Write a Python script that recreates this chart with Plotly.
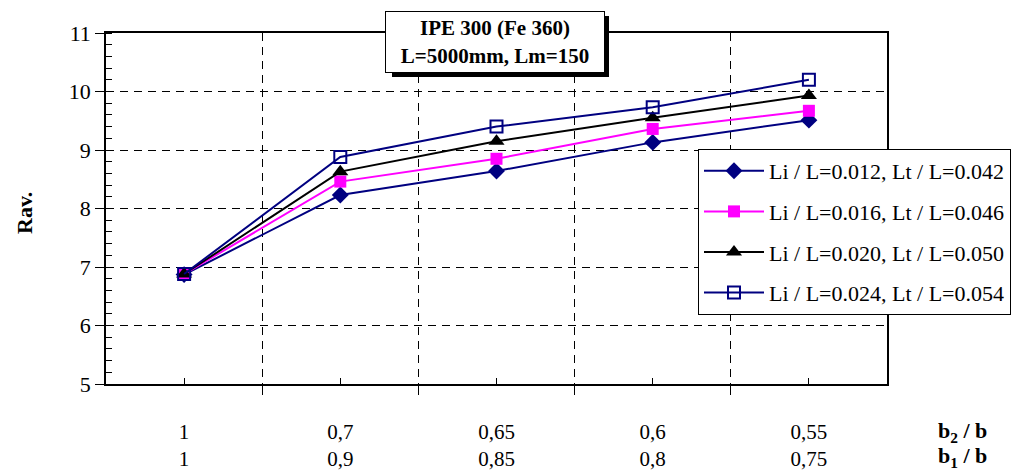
import plotly.graph_objects as go

# Data
b2_b = ["1", "0,7", "0,65", "0,6", "0,55"]
b1_b = ["1", "0,9", "0,85", "0,8", "0,75"]
series_names = [
    "Li / L=0.012, Lt / L=0.042",
    "Li / L=0.016, Lt / L=0.046",
    "Li / L=0.020, Lt / L=0.050",
    "Li / L=0.024, Lt / L=0.054",
]
s1 = [6.87, 8.23, 8.64, 9.13, 9.51]
s2 = [6.88, 8.46, 8.85, 9.36, 9.67]
s3 = [6.88, 8.63, 9.15, 9.55, 9.93]
s4 = [6.88, 8.88, 9.40, 9.73, 10.20]
y_ticks = [5, 6, 7, 8, 9, 10, 11]

FONT = "Times New Roman, Liberation Serif, DejaVu Serif, serif"
W, H = 1023, 470
L, R, T, B = 106, 887, 33, 384
PW, PH = R - L, B - T


def px_x(px):
    return (px - L) / PW


def px_y(py):
    return (B - py) / PH


xs = list(range(len(b2_b)))
ticktext = [f"{a}<br>{b}" for a, b in zip(b2_b, b1_b)]

styles = [
    dict(color="#000080", symbol="diamond", size=13, fill="#000080"),
    dict(color="#FF00FF", symbol="square", size=12, fill="#FF00FF"),
    dict(color="#000000", symbol="triangle-up", size=14, fill="#000000"),
    dict(color="#000080", symbol="square-open", size=12, fill="#000080"),
]

fig = go.Figure()
for i, (name, vals, st) in enumerate(zip(series_names, [s1, s2, s3, s4], styles)):
    fig.add_trace(go.Scatter(
        x=xs, y=vals, name=name, mode="lines+markers",
        legendgroup=f"g{i}",
        line=dict(color=st["color"], width=2),
        marker=dict(symbol=st["symbol"], size=st["size"], color=st["fill"],
                    line=dict(color=st["color"], width=2 if "open" in st["symbol"] else 0)),
    ))

fig.update_layout(
    width=W, height=H,
    margin=dict(l=L, r=W - R, t=T, b=H - B, pad=0, autoexpand=False),
    paper_bgcolor="white", plot_bgcolor="white",
    font=dict(family=FONT, size=22, color="black"),
    showlegend=True,
    legend=dict(
        x=px_x(698), y=px_y(149), xanchor="left", yanchor="top",
        bgcolor="white", bordercolor="black", borderwidth=1,
        font=dict(family=FONT, size=22, color="black"),
        tracegroupgap=9, itemwidth=60,
    ),
)

fig.update_xaxes(
    range=[-0.5, len(b2_b) - 0.5],
    tickmode="array", tickvals=xs, ticktext=ticktext,
    ticks="inside", ticklen=6, tickcolor="black", tickwidth=1,
    showgrid=False, zeroline=False,
    showline=True, linecolor="black", linewidth=1.5, mirror=True,
    ticklabelstandoff=28,
    tickfont=dict(family=FONT, size=21),
    minor=dict(tickmode="array", tickvals=[v - 0.5 for v in xs] + [len(xs) - 0.5],
               ticks="outside", ticklen=9, tickcolor="black", tickwidth=1,
               showgrid=True, gridcolor="black", gridwidth=1, griddash="8px,6px"),
)

fig.update_yaxes(
    range=[5, 11],
    tickmode="array", tickvals=y_ticks,
    ticks="outside", ticklen=9, tickcolor="black", tickwidth=1,
    showgrid=True, gridcolor="black", gridwidth=1, griddash="8px,6px",
    zeroline=False,
    showline=True, linecolor="black", linewidth=1.5, mirror=True,
    tickfont=dict(family=FONT, size=22),
    minor=dict(dtick=0.2, tick0=5, ticks="inside", ticklen=6, tickcolor="black", tickwidth=1,
               showgrid=False),
)

# Title box shadow
fig.add_shape(type="rect", xref="paper", yref="paper",
              x0=px_x(392), x1=px_x(609), y0=px_y(77), y1=px_y(16),
              fillcolor="black", line=dict(width=0), layer="above")

annotations = [
    dict(text="<b>IPE 300 (Fe 360)</b><br><b>L=5000mm, Lm=150</b>",
         x=px_x(495), y=px_y(41.5), xref="paper", yref="paper",
         xanchor="center", yanchor="middle", showarrow=False,
         width=216, height=58, bgcolor="white", bordercolor="black", borderwidth=1,
         font=dict(family=FONT, size=21, color="black")),
    dict(text="<b>Rav.</b>", x=px_x(25), y=px_y(213), xref="paper", yref="paper",
         xanchor="center", yanchor="middle", showarrow=False, textangle=-90,
         font=dict(family=FONT, size=22, color="black")),
    dict(text="<b>b<sub>2</sub> / b</b>", x=px_x(962), y=px_y(432), xref="paper", yref="paper",
         xanchor="center", yanchor="middle", showarrow=False,
         font=dict(family=FONT, size=22, color="black")),
    dict(text="<b>b<sub>1</sub> / b</b>", x=px_x(962), y=px_y(457), xref="paper", yref="paper",
         xanchor="center", yanchor="middle", showarrow=False,
         font=dict(family=FONT, size=22, color="black")),
]
fig.update_layout(annotations=annotations)

fig.write_html(
    "out.html",
    config={"displayModeBar": False},
    post_script="document.body.style.margin='0';document.documentElement.style.overflow='hidden';",
)
